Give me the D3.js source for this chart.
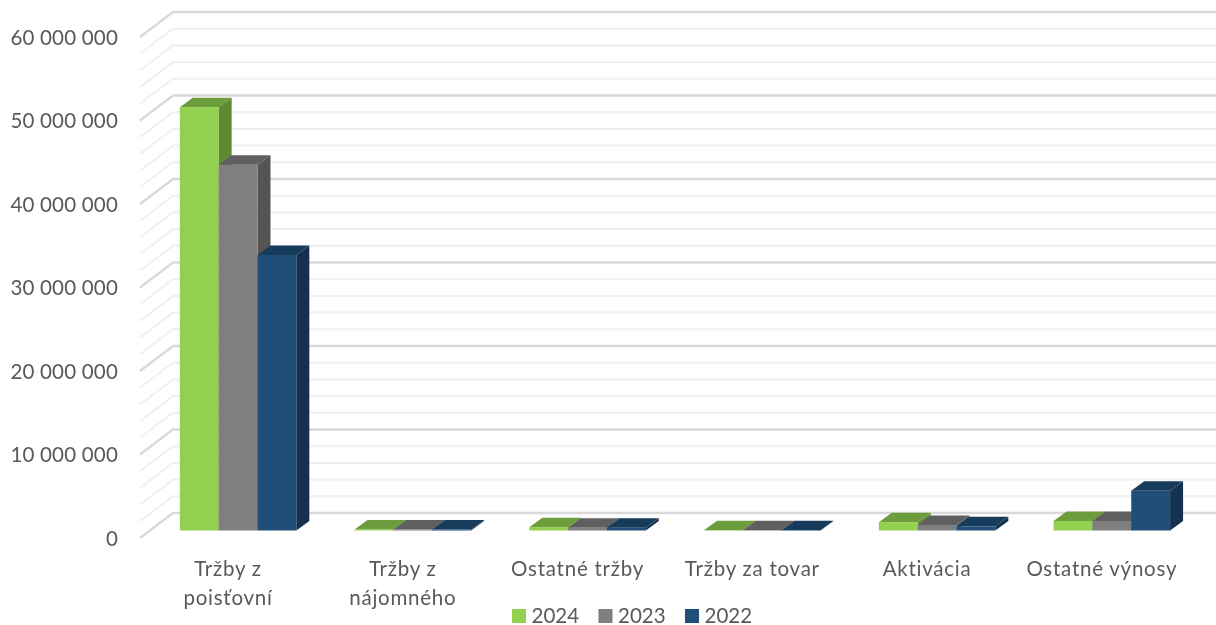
<!DOCTYPE html>
<html lang="sk">
<head>
    <meta charset="UTF-8">
    <title>Výnosy</title>
    <script src="https://d3js.org/d3.v7.min.js"></script>
    <style>
        html, body { margin: 0; padding: 0; background: #fff; overflow: hidden; }
        svg { display: block; filter: blur(0.35px); }
        svg text { font-family: Lato, 'Open Sans', sans-serif; fill: #595959; font-size: 20.5px; }
        .cat-label { letter-spacing: 0.75px; }
        .tick text { letter-spacing: 0.2px; }
    </style>
</head>
<body>
    <svg id="chart" width="1216" height="625"></svg>
    <script>
        const categories = ['Tržby z poisťovní', 'Tržby z nájomného', 'Ostatné tržby', 'Tržby za tovar', 'Aktivácia', 'Ostatné výnosy'];
        const years = ['2024', '2023', '2022'];
        const values2024 = [50700000, 120000, 400000, 40000, 1000000, 1140000];
        const values2023 = [43800000, 120000, 340000, 40000, 660000, 1140000];
        const values2022 = [33000000, 120000, 340000, 40000, 500000, 4770000];
        const yTicks = [0, 10000000, 20000000, 30000000, 40000000, 50000000, 60000000];
        const minorTicks = d3.range(0, 60000001, 2000000);

        const seriesValues = { '2024': values2024, '2023': values2023, '2022': values2022 };
        const colors = {
            '2024': { front: '#92d050', top: '#6d9c3c', side: '#5f8a33' },
            '2023': { front: '#7f7f7f', top: '#5f5f5f', side: '#545454' },
            '2022': { front: '#1f4e79', top: '#173b5b', side: '#14324f' }
        };

        const svg = d3.select('#chart');

        // 3D offsets: wall depth and bar depth
        const wallDx = 33, wallDy = -25;
        const barDx = 13, barDy = -9.5;
        const barLift = 7.5; // bars sit a bit behind the front edge of the floor

        const y = d3.scaleLinear().domain([0, 60000000]).range([538, 37]);
        const x = d3.scaleBand().domain(categories).range([150.7, 1199.2]).paddingInner(1 / 3).paddingOuter(1 / 6);
        const xBar = d3.scaleBand().domain(years).range([0, x.bandwidth()]);

        const floorX = 140, wallRight = 1216;

        // gridlines, minor first so the major ones sit on top
        const sorted = minorTicks.slice().sort((a, b) => yTicks.includes(a) - yTicks.includes(b));
        svg.append('g').selectAll('path')
            .data(sorted)
            .enter()
            .append('path')
            .attr('d', d => `M${floorX},${y(d)}L${floorX + wallDx},${y(d) + wallDy}L${wallRight},${y(d) + wallDy}`)
            .attr('fill', 'none')
            .attr('stroke', d => yTicks.includes(d) ? '#d9d9d9' : '#f0f0f0')
            .attr('stroke-width', d => yTicks.includes(d) ? 2.4 : 2);

        // value axis labels
        const sk = d3.formatLocale({ decimal: ',', thousands: ' ', grouping: [3], currency: ['', ' €'] });
        const yAxis = d3.axisLeft(y).tickValues(yTicks).tickFormat(sk.format(',')).tickSize(0).tickPadding(0);
        const yAxisG = svg.append('g').attr('transform', 'translate(118,0.5)').call(yAxis);
        yAxisG.select('.domain').remove();
        yAxisG.selectAll('text').attr('font-family', null).attr('font-size', null);

        // bars, left to right so every bar overlaps the side of the previous one
        const groups = svg.append('g').selectAll('g')
            .data(categories)
            .enter()
            .append('g')
            .attr('transform', d => `translate(${x(d)},0)`);

        years.forEach(year => {
            const w = xBar.bandwidth();
            const x0 = xBar(year);
            const base = y(0) - barLift;
            const top = (d, i) => y(seriesValues[year][i]) - barLift;

            groups.append('path')
                .attr('d', (d, i) => `M${x0 + w},${top(d, i)}l${barDx},${barDy}V${base + barDy}l${-barDx},${-barDy}Z`)
                .attr('fill', colors[year].side);
            groups.append('path')
                .attr('d', (d, i) => `M${x0},${top(d, i)}l${barDx},${barDy}h${w}l${-barDx},${-barDy}Z`)
                .attr('fill', colors[year].top);
            groups.append('rect')
                .attr('x', x0)
                .attr('y', (d, i) => top(d, i))
                .attr('width', w)
                .attr('height', (d, i) => base - top(d, i))
                .attr('fill', colors[year].front);
        });

        // category labels, wrapped like the original
        const labelLines = {
            'Tržby z poisťovní': ['Tržby z', 'poisťovní'],
            'Tržby z nájomného': ['Tržby z', 'nájomného']
        };
        const labels = svg.append('g').selectAll('text')
            .data(categories)
            .enter()
            .append('text')
            .attr('class', 'cat-label')
            .attr('text-anchor', 'middle')
            .attr('y', 576);
        labels.selectAll('tspan')
            .data(d => (labelLines[d] || [d]).map(line => ({ line, cat: d })))
            .enter()
            .append('tspan')
            .attr('x', d => x(d.cat) + x.bandwidth() / 2 - 10)
            .attr('dy', (d, i) => i ? 29 : 0)
            .text(d => d.line);

        // legend
        const legendX = d3.scalePoint().domain(years).range([512, 685]);
        const legend = svg.append('g').selectAll('g')
            .data(years)
            .enter()
            .append('g')
            .attr('transform', d => `translate(${legendX(d)},609)`);
        legend.append('rect')
            .attr('width', 14)
            .attr('height', 14)
            .attr('fill', d => colors[d].front);
        legend.append('text')
            .attr('x', 19.5)
            .attr('y', 14.3)
            .text(d => d);
    </script>
</body>
</html>
